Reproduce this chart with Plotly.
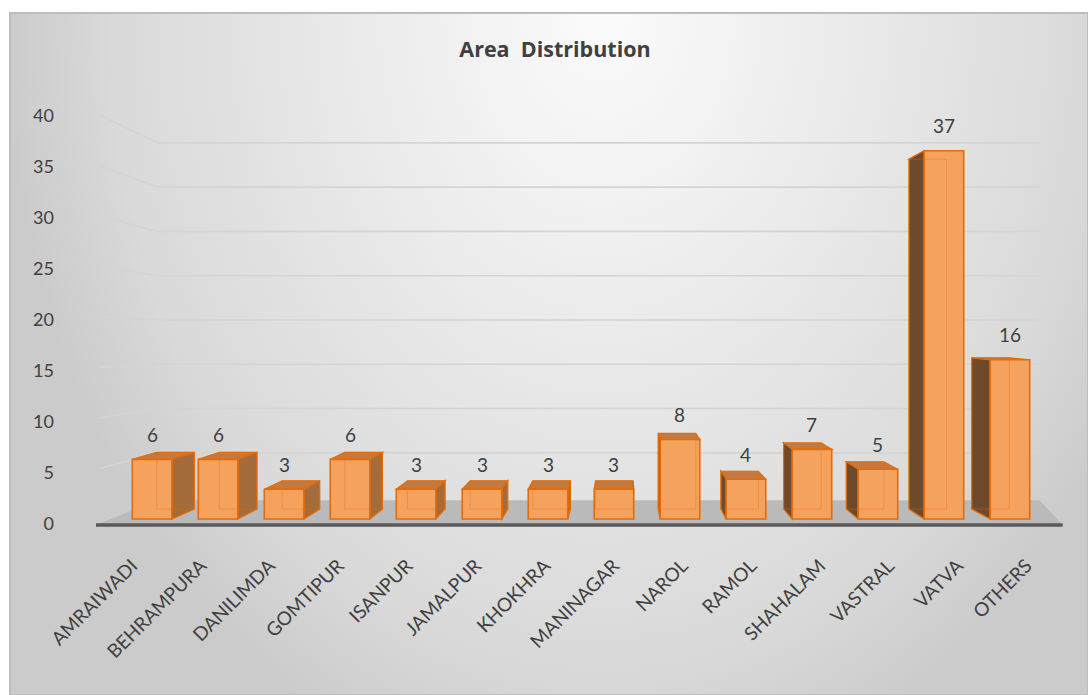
import base64
import plotly.graph_objects as go

categories = ["AMRAIWADI", "BEHRAMPURA", "DANILIMDA", "GOMTIPUR", "ISANPUR", "JAMALPUR",
              "KHOKHRA", "MANINAGAR", "NAROL", "RAMOL", "SHAHALAM", "VASTRAL", "VATVA", "OTHERS"]
counts = [6, 6, 3, 6, 3, 3, 3, 3, 8, 4, 7, 5, 37, 16]
y_ticks = [0, 5, 10, 15, 20, 25, 30, 35, 40]

# --- layout geometry (pixels of the 1088x695 page) ---
W, H = 1088, 695
ML, MR, MT, MB = 96, 22, 108, 167
XR = [-0.85, 13.85]          # bars (back plane of the 3D box)
YR = [-0.9, 41.3]
XR_LAB = [-0.785, 13.314]    # label axis (front edge of the floor, wider in perspective)
YR_LAB = [-0.392, 40.79]     # value labels on the front-left wall edge
PW, PH = W - ML - MR, H - MT - MB

# pseudo-3D projection parameters (data units)
VPX, VPY = 7.1, 20.0
KB = 0.05      # bar depth
KW = 0.11      # back wall depth
HALF = 0.30    # half bar width

FRONT = "#F5A25E"
EDGE = "#E46C0A"
TOP = "#C27A40"
RSIDE = "#A46B3B"
LSIDE = "#6E4A2C"
TXT = "#404040"
FONT = "Lato, Open Sans, sans-serif"


def proj(x, y, k):
    return x + k * (VPX - x), y + k * (VPY - y)


def path(pts):
    return "M " + " L ".join(f"{x:.4f},{y:.4f}" for x, y in pts) + " Z"


shapes = []
# floor
fl_front = -0.6
shapes.append(dict(type="path", xref="x", yref="y", layer="below",
                   path=path([(-0.85, fl_front), (13.8, fl_front), (13.45, 1.9), (0.09, 1.9)]),
                   fillcolor="#BABABA", line=dict(width=0)))
shapes.append(dict(type="line", xref="x", yref="y", layer="below",
                   x0=-0.85, x1=13.8, y0=fl_front, y1=fl_front,
                   line=dict(color="#5A5A5A", width=3.5)))

# back-wall gridlines (with the slanted segment on the left wall)
for t in y_ticks[1:]:
    yb = t + KW * (VPY - t)
    shapes.append(dict(type="path", xref="x", yref="y", layer="below",
                       path=f"M -0.8,{t * 1.015:.4f} L 0.09,{yb:.4f} L 13.45,{yb:.4f}",
                       line=dict(color="#D4D4D4", width=1.6)))

# bar depth faces
backs = []
for i, v in enumerate(counts):
    xl, xr = i - HALF, i + HALF
    bl_ = proj(xl, 0, KB)
    tl_ = proj(xl, v, KB)
    tr_ = proj(xr, v, KB)
    br_ = proj(xr, 0, KB)
    shapes.append(dict(type="path", xref="x", yref="y", layer="below",
                       path=path([(xl, v), (xr, v), tr_, tl_]),
                       fillcolor=TOP, line=dict(color=EDGE, width=1.2)))
    if br_[0] > xr:
        shapes.append(dict(type="path", xref="x", yref="y", layer="below",
                           path=path([(xr, 0), (xr, v), tr_, br_]),
                           fillcolor=RSIDE, line=dict(color=EDGE, width=1.2)))
    if bl_[0] < xl:
        shapes.append(dict(type="path", xref="x", yref="y", layer="below",
                           path=path([(xl, 0), (xl, v), tl_, bl_]),
                           fillcolor=LSIDE, line=dict(color=EDGE, width=1.2)))
    backs.append(dict(type="path", xref="x", yref="y", layer="above",
                      path=path([bl_, tl_, tr_, br_]),
                      line=dict(color="rgba(228,108,10,0.35)", width=1)))
shapes.extend(backs)

fig = go.Figure()
fig.add_trace(go.Bar(
    x=list(range(len(categories))), y=counts, width=2 * HALF,
    marker=dict(color=FRONT, line=dict(color=EDGE, width=1.6)),
    hoverinfo="skip", showlegend=False,
))
# invisible trace carrying the label axes
fig.add_trace(go.Scatter(
    x=list(range(len(categories))), y=counts, xaxis="x2", yaxis="y2",
    mode="markers", marker=dict(opacity=0), hoverinfo="skip", showlegend=False,
))

annotations = [dict(x=i, y=v, text=str(v), showarrow=False, yshift=25,
                    font=dict(size=19, color=TXT, family=FONT))
               for i, v in enumerate(counts)]

# background (gradient panel with thin border)
svg = ("<svg xmlns='http://www.w3.org/2000/svg' width='1079' height='683' viewBox='0 0 1079 683' "
       "preserveAspectRatio='none'><defs><radialGradient id='g' gradientUnits='userSpaceOnUse' "
       "cx='0' cy='0' r='1' gradientTransform='translate(593,0) scale(600,800)'>"
       "<stop offset='0' stop-color='#fbfbfb'/><stop offset='0.4' stop-color='#ebebeb'/>"
       "<stop offset='0.82' stop-color='#d9d9d9'/><stop offset='1' stop-color='#cbcbcb'/>"
       "</radialGradient></defs><rect x='1' y='1' width='1078' height='682' fill='url(#g)' "
       "stroke='#bdbdbd' stroke-width='2'/></svg>")
src = "data:image/svg+xml;base64," + base64.b64encode(svg.encode()).decode()
images = [dict(source=src, xref="paper", yref="paper",
               x=(9 - ML) / PW, y=(H - MB - 12) / PH,
               sizex=1079 / PW, sizey=683 / PH,
               xanchor="left", yanchor="top", sizing="stretch", layer="below")]

fig.update_layout(
    width=W, height=H,
    margin=dict(l=ML, r=MR, t=MT, b=MB, pad=0),
    paper_bgcolor="white", plot_bgcolor="rgba(0,0,0,0)",
    title=dict(text="Area\u00a0\u00a0Distribution", x=555 / W, xref="container", xanchor="center",
               y=1 - 49 / H, yref="container", yanchor="middle",
               font=dict(size=21.5, color=TXT, family="Open Sans, sans-serif", weight="bold")),
    xaxis=dict(range=XR, showticklabels=False, showgrid=False, zeroline=False,
               showline=False, ticks=""),
    yaxis=dict(range=YR, showticklabels=False, showgrid=False, zeroline=False,
               showline=False, ticks=""),
    xaxis2=dict(range=XR_LAB, overlaying="x", side="bottom", anchor="y2",
                tickmode="array", tickvals=list(range(len(categories))), ticktext=categories,
                tickangle=-45, showgrid=False, zeroline=False, showline=False, ticks="",
                ticklabelstandoff=22, ticklabelshift=-18,
                tickfont=dict(size=19, color=TXT, family=FONT)),
    yaxis2=dict(range=YR_LAB, overlaying="y", side="left", anchor="x2",
                tickmode="array", tickvals=y_ticks, showgrid=False, zeroline=False,
                showline=False, ticks="", ticklabelstandoff=41,
                tickfont=dict(size=18, color=TXT, family=FONT)),
    shapes=shapes, annotations=annotations, images=images,
    bargap=0.4,
)

fig.write_html("out.html")
